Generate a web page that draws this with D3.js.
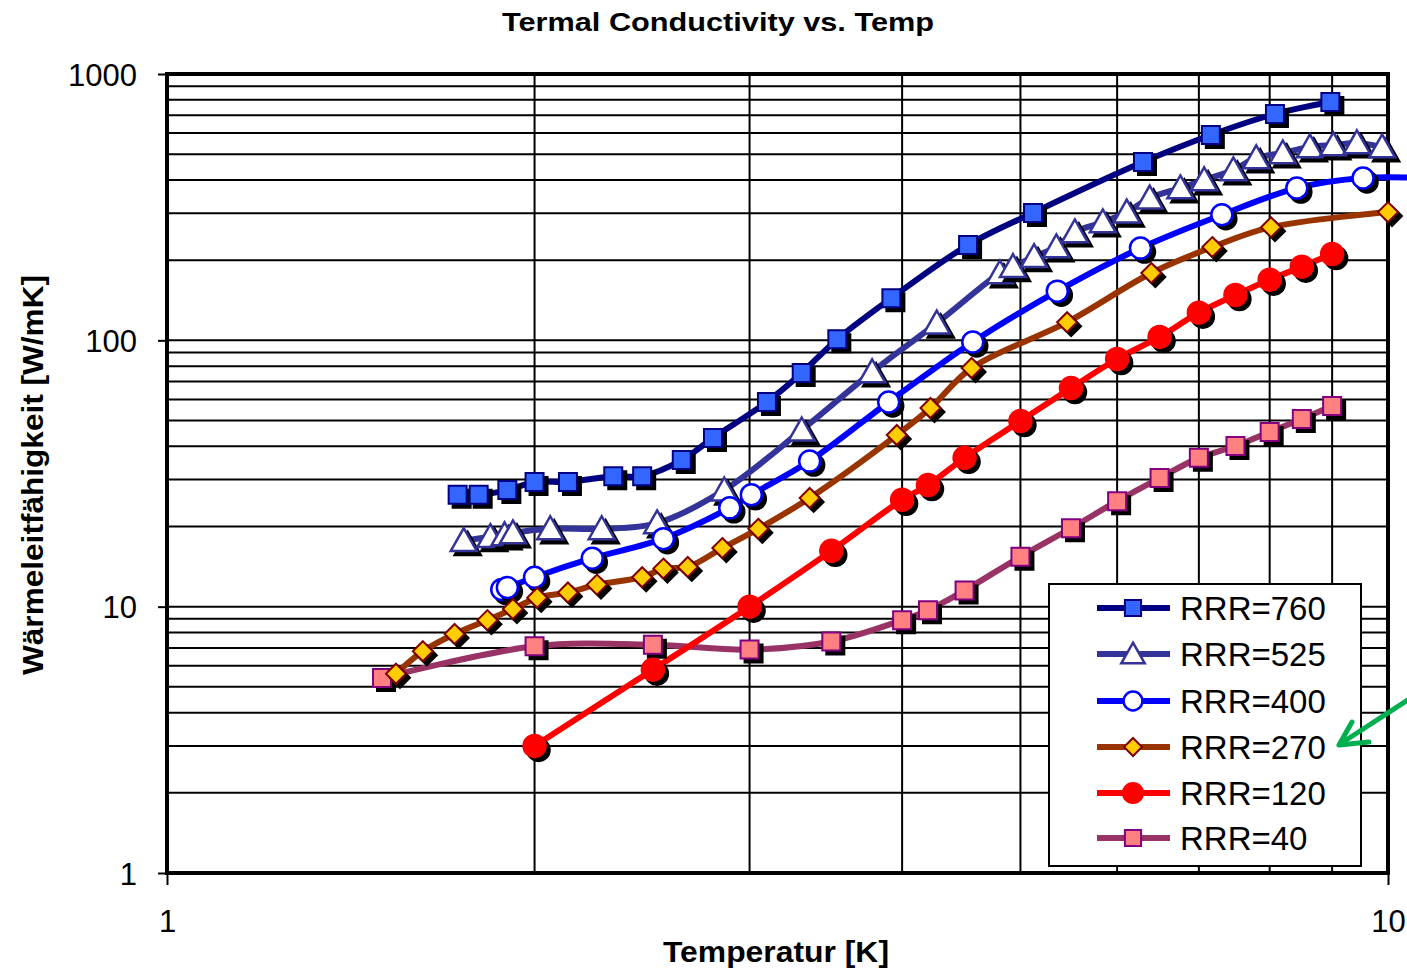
<!DOCTYPE html>
<html>
<head>
<meta charset="utf-8">
<script src="https://cdn.jsdelivr.net/npm/d3@7"></script>
<style>
  body { margin: 0; background: #fff; }
  svg { display: block; font-family: "Liberation Sans", Arial, sans-serif; }
</style>
</head>
<body>
<svg id="chart" width="1407" height="971"></svg>
<script>
// Temperature [K] and thermal conductivity [W/mK] per residual resistance ratio
const temp760 = [1.73, 1.80, 1.90, 2.00, 2.13, 2.32, 2.45, 2.64, 2.80, 3.10, 3.31, 3.54, 3.92, 4.53, 5.12, 6.30, 7.16, 8.08, 8.97];
const cond760 = [26.3, 26.3, 27.4, 29.4, 29.4, 30.9, 30.9, 35.5, 43.0, 58.7, 75.4, 101, 144, 228, 301, 467, 590, 708, 785];

const temp525 = [1.75, 1.84, 1.89, 1.92, 2.06, 2.27, 2.52, 2.86, 3.31, 3.78, 4.27, 4.81, 4.93, 5.13, 5.35, 5.54, 5.84, 6.11, 6.38, 6.76, 7.07, 7.47, 7.80, 8.20, 8.63, 9.02, 9.43, 9.89];
const cond525 = [17.7, 18.3, 18.6, 18.9, 19.6, 19.6, 20.6, 27.4, 46.0, 76.1, 116, 179, 189, 206, 224, 255, 278, 303, 342, 373, 400, 436, 484, 505, 532, 541, 551, 532];

const temp400 = [1.88, 1.90, 2.00, 2.23, 2.55, 2.89, 3.01, 3.36, 3.90, 4.57, 5.36, 6.27, 7.31, 8.42, 9.54, 11.0];
const cond400 = [11.6, 11.8, 12.9, 15.2, 18.0, 23.5, 26.3, 35.2, 58.7, 98.6, 153, 222, 296, 373, 407, 405];

const temp270 = [1.54, 1.62, 1.72, 1.83, 1.92, 2.01, 2.13, 2.25, 2.45, 2.55, 2.67, 2.85, 3.05, 3.36, 3.96, 4.22, 4.56, 5.46, 6.40, 7.18, 8.02, 10.0];
const cond270 = [5.6, 6.8, 7.9, 8.9, 9.8, 10.8, 11.3, 12.1, 12.9, 13.9, 14.1, 16.6, 19.6, 25.6, 44.1, 55.7, 78.7, 117, 179, 224, 266, 303];

const temp120 = [2.0, 2.5, 3.0, 3.5, 4.0, 4.2, 4.5, 5.0, 5.5, 6.0, 6.5, 7.0, 7.5, 8.0, 8.5, 9.0];
const cond120 = [3.0, 5.8, 10.0, 16.2, 25.2, 28.6, 36.2, 49.8, 66.2, 85.1, 103, 127, 148, 169, 189, 211];

const temp40 = [1.5, 2.0, 2.5, 3.0, 3.5, 4.0, 4.2, 4.5, 5.0, 5.5, 6.0, 6.5, 7.0, 7.5, 8.0, 8.5, 9.0];
const cond40 = [5.4, 7.1, 7.2, 6.9, 7.4, 8.9, 9.7, 11.5, 15.4, 19.7, 24.9, 30.4, 36.2, 40.1, 45.3, 50.7, 56.7];

const seriesNames = ["RRR=760", "RRR=525", "RRR=400", "RRR=270", "RRR=120", "RRR=40"];
const yTickValues = [1, 10, 100, 1000];
const xTickValues = [1, 10];

const chartTitle = "Termal Conductivity vs. Temp";
const xTitle = "Temperatur [K]";
const yTitle = "Wärmeleitfähigkeit [W/mK]";

// Styling per series: line colour and marker look
const styles = [
  { line: "#000080", shape: "square",   size: 18, fill: "#3366FF", stroke: "#000080", sw: 2 },
  { line: "#333399", shape: "triangle", size: 26, fill: "#FFFFFF", stroke: "#333399", sw: 2.5 },
  { line: "#0000FF", shape: "circle",   size: 21, fill: "#FFFFFF", stroke: "#0000FF", sw: 2.5 },
  { line: "#993300", shape: "diamond",  size: 20, fill: "#FFCC00", stroke: "#800000", sw: 2 },
  { line: "#FF0000", shape: "circle",   size: 23, fill: "#FF0000", stroke: "#FF0000", sw: 1.5 },
  { line: "#993366", shape: "square",   size: 18, fill: "#FF8080", stroke: "#800080", sw: 2 }
];

const series = [
  [temp760, cond760], [temp525, cond525], [temp400, cond400],
  [temp270, cond270], [temp120, cond120], [temp40, cond40]
].map((d, i) => ({
  name: seriesNames[i],
  style: styles[i],
  points: d[0].map((t, j) => ({ t, k: d[1][j] }))
}));

const svg = d3.select("#chart");
const plot = { left: 167, right: 1388, top: 74, bottom: 873 };

const x = d3.scaleLog().domain([1, 10]).range([plot.left, plot.right]);
const y = d3.scaleLog().domain([1, 1000]).range([plot.bottom, plot.top]);

// Grid: every unit of each decade
const yGrid = [];
for (let e = 0; e < 3; e++) for (let m = 1; m < 10; m++) yGrid.push(m * Math.pow(10, e));
yGrid.push(1000);
const xGrid = d3.range(2, 10);

const grid = svg.append("g");
grid.selectAll("line.h").data(yGrid).join("line")
  .attr("x1", plot.left).attr("x2", plot.right)
  .attr("y1", d => y(d)).attr("y2", d => y(d))
  .attr("stroke", "#000").attr("stroke-width", 2);
grid.selectAll("line.v").data(xGrid).join("line")
  .attr("x1", d => x(d)).attr("x2", d => x(d))
  .attr("y1", plot.top).attr("y2", plot.bottom)
  .attr("stroke", "#000").attr("stroke-width", 2);

// Axes with outward major ticks
const yAxis = d3.axisLeft(y).tickValues(yTickValues).tickFormat(d3.format("d")).tickSize(9).tickPadding(21);
const xAxis = d3.axisBottom(x).tickValues(xTickValues).tickFormat(d3.format("d")).tickSize(12).tickPadding(25);

const gy = svg.append("g").attr("transform", `translate(${plot.left},0)`).call(yAxis);
const gx = svg.append("g").attr("transform", `translate(0,${plot.bottom})`).call(xAxis);
[gx, gy].forEach(g => {
  g.select(".domain").remove();
  g.selectAll(".tick line").attr("stroke", "#000").attr("stroke-width", 2);
  g.selectAll(".tick text").attr("fill", "#000").attr("font-size", 31)
    .attr("font-family", "Liberation Sans, Arial, sans-serif");
});
gy.selectAll(".tick text").attr("dy", "0.36em");
gx.selectAll(".tick text").attr("dy", "0.72em");

// Plot frame
svg.append("rect")
  .attr("x", plot.left).attr("y", plot.top)
  .attr("width", plot.right - plot.left).attr("height", plot.bottom - plot.top)
  .attr("fill", "none").attr("stroke", "#000").attr("stroke-width", 4);

// Series lines (smoothed)
const lineGen = d3.line().x(d => x(d.t)).y(d => y(d.k)).curve(d3.curveCatmullRom.alpha(0.5));
const lineOrder = [5, 0, 1, 2, 3, 4];
lineOrder.forEach(i => {
  const s = series[i];
  svg.append("path").datum(s.points)
    .attr("d", lineGen)
    .attr("fill", "none").attr("stroke", s.style.line)
    .attr("stroke-width", 6).attr("stroke-linejoin", "round").attr("stroke-linecap", "round");
});

// Marker shapes
function markerPath(shape, size) {
  const h = size / 2;
  switch (shape) {
    case "square": return `M${-h},${-h}H${h}V${h}H${-h}Z`;
    case "diamond": return `M0,${-h}L${h},0L0,${h}L${-h},0Z`;
    case "triangle": {
      const ht = size * 0.88;
      return `M0,${-ht * 0.55}L${h},${ht * 0.45}L${-h},${ht * 0.45}Z`;
    }
    case "circle": return d3.symbol(d3.symbolCircle, Math.PI * h * h)();
  }
}

const markerOrder = [5, 0, 1, 2, 3, 4];
markerOrder.forEach(i => {
  const s = series[i];
  const g = svg.append("g");
  const p = markerPath(s.style.shape, s.style.size);
  s.points.forEach(d => {
    if (d.t > 10) return;
    g.append("path").attr("d", p)
      .attr("transform", `translate(${x(d.t) + 4},${y(d.k) + 4})`)
      .attr("fill", "#000").attr("stroke", "#000").attr("stroke-width", s.style.sw);
    g.append("path").attr("d", p)
      .attr("transform", `translate(${x(d.t)},${y(d.k)})`)
      .attr("fill", s.style.fill).attr("stroke", s.style.stroke).attr("stroke-width", s.style.sw);
  });
});

// Legend
const legend = svg.append("g").attr("transform", "translate(1049,584)");
legend.append("rect").attr("width", 312).attr("height", 282)
  .attr("fill", "#fff").attr("stroke", "#000").attr("stroke-width", 2);
const rowY = [24, 70, 117, 163, 209, 254];
series.forEach((s, i) => {
  const r = legend.append("g").attr("transform", `translate(0,${rowY[i]})`);
  r.append("line").attr("x1", 48).attr("x2", 121).attr("y1", 0).attr("y2", 0)
    .attr("stroke", s.style.line).attr("stroke-width", 6);
  r.append("path").attr("d", markerPath(s.style.shape, s.style.size * 0.9))
    .attr("transform", "translate(84,0)")
    .attr("fill", s.style.fill).attr("stroke", s.style.stroke).attr("stroke-width", s.style.sw);
  r.append("text").attr("x", 131).attr("y", 12).attr("font-size", 33)
    .attr("fill", "#000").text(s.name);
});

// Titles
svg.append("text").attr("x", 718).attr("y", 31).attr("text-anchor", "middle")
  .attr("font-size", 26).attr("font-weight", "bold")
  .attr("textLength", 432).attr("lengthAdjust", "spacingAndGlyphs").text(chartTitle);
svg.append("text").attr("x", 776).attr("y", 962).attr("text-anchor", "middle")
  .attr("font-size", 30).attr("font-weight", "bold")
  .attr("textLength", 226).attr("lengthAdjust", "spacingAndGlyphs").text(xTitle);
svg.append("text").attr("transform", "translate(43,475) rotate(-90)").attr("text-anchor", "middle")
  .attr("font-size", 30).attr("font-weight", "bold")
  .attr("textLength", 400).attr("lengthAdjust", "spacingAndGlyphs").text(yTitle);

// Pointer arrow toward the RRR=270 entry
const arrow = svg.append("g").attr("stroke", "#00B050").attr("stroke-width", 5)
  .attr("fill", "none").attr("stroke-linecap", "round").attr("stroke-linejoin", "round");
arrow.append("line").attr("x1", 1420).attr("y1", 692).attr("x2", 1340).attr("y2", 744);
arrow.append("polyline").attr("points", "1352,722 1339,745 1369,742");
</script>
</body>
</html>
